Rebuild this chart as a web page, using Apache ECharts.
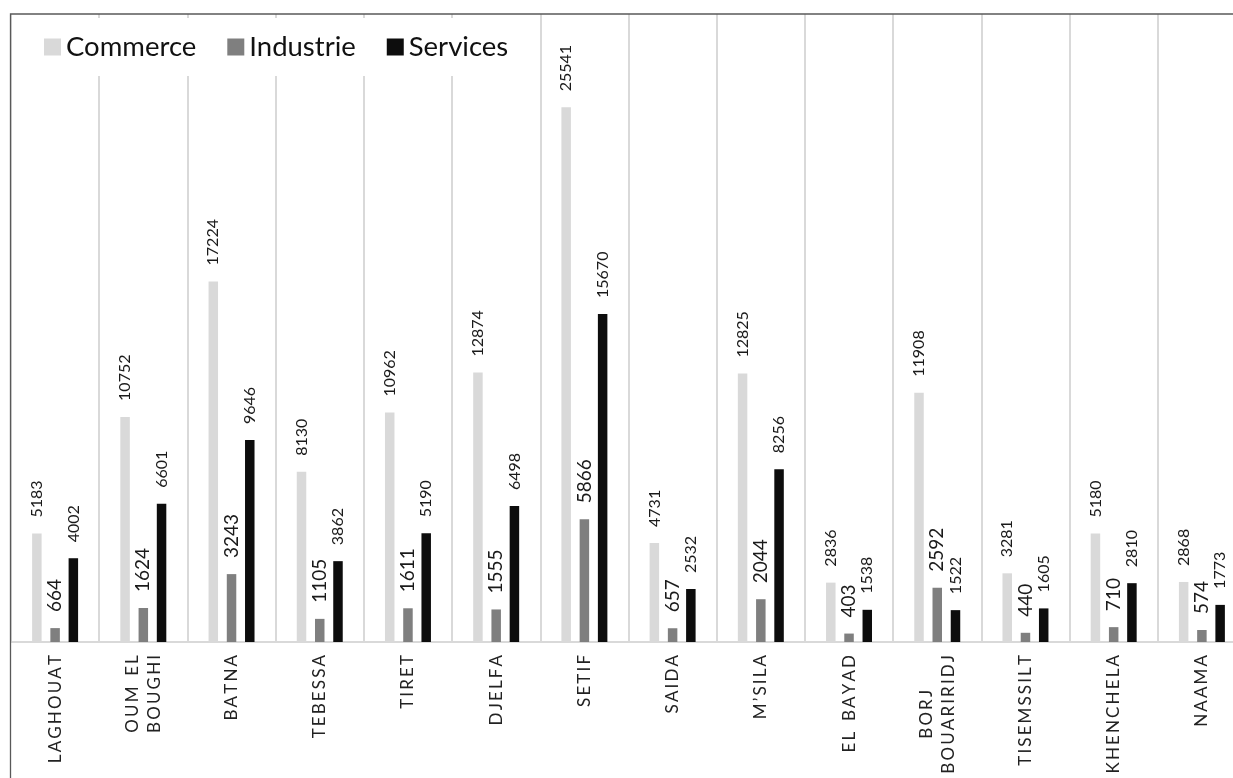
<!DOCTYPE html>
<html>
<head>
<meta charset="utf-8">
<script src="https://cdn.jsdelivr.net/npm/echarts@6/dist/echarts.min.js"></script>
<style>
  html, body { margin: 0; padding: 0; background: #fff; }
  #chart { width: 1233px; height: 778px; }
</style>
</head>
<body>
<div id="chart"></div>
<script>
// ---- data ----
const categories = [
  'LAGHOUAT', 'OUM EL\nBOUGHI', 'BATNA', 'TEBESSA', 'TIRET', 'DJELFA', 'SETIF',
  'SAIDA', 'M\u2019SILA', 'EL BAYAD', 'BORJ\nBOUARIRIDJ', 'TISEMSSILT', 'KHENCHELA', 'NAAMA'
];
const seriesNames = ['Commerce', 'Industrie', 'Services'];
const commerce  = [5183, 10752, 17224, 8130, 10962, 12874, 25541, 4731, 12825, 2836, 11908, 3281, 5180, 2868];
const industrie = [664, 1624, 3243, 1105, 1611, 1555, 5866, 657, 2044, 403, 2592, 440, 710, 574];
const services  = [4002, 6601, 9646, 3862, 5190, 6498, 15670, 2532, 8256, 1538, 1522, 1605, 2810, 1773];

// ---- chart ----
const FONT = 'Lato';
const THIN = '\u2009';
function spaced(line) {
  return line.split(' ').map(w => w.split('').join(THIN)).join(THIN + ' ' + THIN + THIN);
}
const chart = echarts.init(document.getElementById('chart'), null, { renderer: 'canvas' });

function barLabel(size) {
  return {
    show: true, position: 'top', rotate: 90, align: 'left', verticalAlign: 'middle',
    distance: 16, fontFamily: FONT, fontSize: size, color: '#1a1a1a'
  };
}

const option = {
  animation: false,
  backgroundColor: '#fff',
  grid: { left: 11, top: 14, width: 1235, height: 628, containLabel: false, outerBoundsMode: 'none' },
  legend: {
    data: seriesNames,
    left: 20, top: 18,
    padding: [15, 15, 15, 24],
    backgroundColor: '#fff',
    icon: 'rect', itemWidth: 17, itemHeight: 17, itemGap: 31,
    textStyle: { fontFamily: FONT, fontSize: 27.5, color: '#111' }
  },
  xAxis: {
    type: 'category',
    data: categories,
    axisLine: { show: true, lineStyle: { color: '#d9d9d9', width: 2 } },
    axisTick: { show: false },
    splitLine: { show: true, lineStyle: { color: '#d9d9d9', width: 2 } },
    axisLabel: {
      interval: 0, rotate: 90, margin: 13,
      formatter: v => v.split('\n').map(l => '{c|' + spaced(l) + '}').join('\n'),
      rich: { c: { fontFamily: FONT, fontSize: 17, color: '#222', align: 'center', lineHeight: 22 } }
    }
  },
  yAxis: { type: 'value', min: 0, max: 30000, show: false, splitLine: { show: false } },
  series: [
    { name: seriesNames[0], type: 'bar', data: commerce, barWidth: 9.5, barGap: '92%',
      itemStyle: { color: '#d9d9d9' }, label: barLabel(16) },
    { name: seriesNames[1], type: 'bar', data: industrie, barWidth: 9.5, barGap: '92%',
      itemStyle: { color: '#7f7f7f' }, label: barLabel(19) },
    { name: seriesNames[2], type: 'bar', data: services, barWidth: 9.5, barGap: '92%',
      itemStyle: { color: '#0d0d0d' }, label: barLabel(16) }
  ],
  graphic: [{
    type: 'rect', z: 100, silent: true,
    shape: { x: 10.5, y: 14, width: 1400, height: 900 },
    style: { fill: 'none', stroke: '#595959', lineWidth: 1.3 }
  }]
};
chart.setOption(option);
</script>
</body>
</html>
